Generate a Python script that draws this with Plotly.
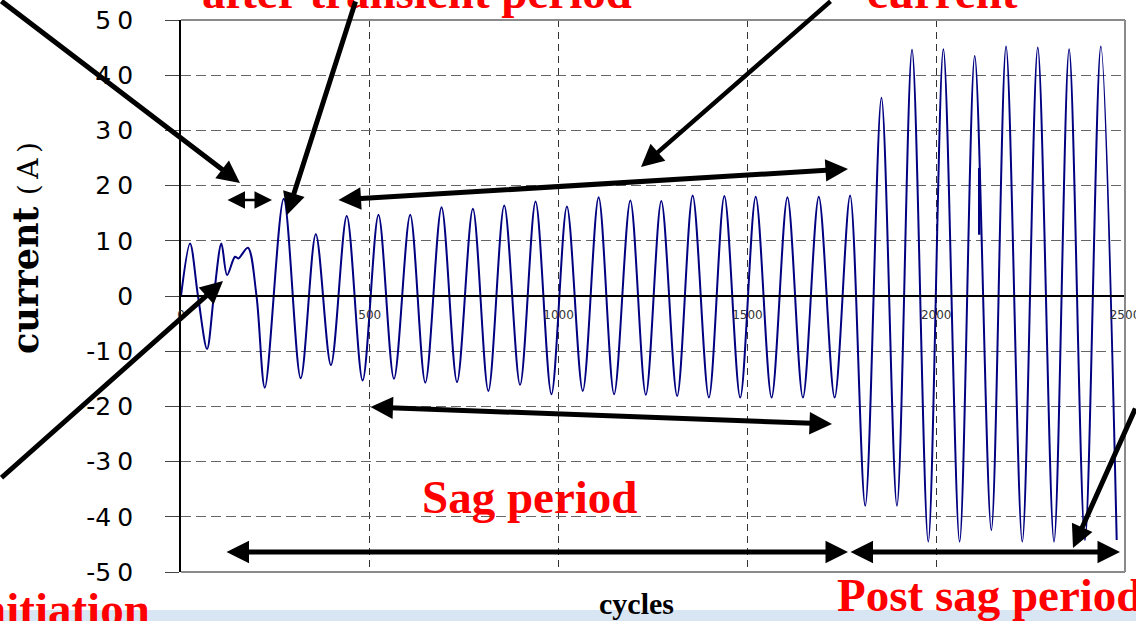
"""Line current through a voltage sag: waveform with the annotated periods."""
import plotly.graph_objects as go

# sample positions (cycles axis) and current (A), read at the extrema of the trace
cycles = [0, 24, 45, 69, 87, 107, 122, 143, 152, 177,
          200, 222, 272, 317, 357, 397, 439, 481, 523, 564,
          607, 647, 690, 731, 773, 814, 856, 898, 939, 981,
          1022, 1064, 1106, 1147, 1190, 1231, 1272, 1314, 1355, 1398,
          1439, 1481, 1522, 1564, 1606, 1647, 1689, 1731, 1772, 1812,
          1855, 1896, 1936, 1979, 2019, 2062, 2102, 2146, 2185, 2228,
          2269, 2312, 2352, 2394, 2436, 2478]
current = [0, 9.5, 0, -9.6, 0, 9.5, 3.8, 7.1, 6.8, 8.75,
           0, -16.6, 17.6, -14.9, 11.2, -12.5, 14.5, -15.3, 14.7, -15.0,
           14.7, -15.7, 16.1, -15.6, 15.8, -17.2, 16.4, -16.1, 17.1, -17.8,
           16.2, -17.2, 17.9, -17.8, 17.3, -17.9, 17.2, -18.1, 18.2, -18.4,
           18.1, -18.4, 18.0, -18.4, 17.9, -18.4, 18.0, -18.4, 18.2, -38.0,
           35.9, -38.0, 44.6, -44.5, 44.7, -44.5, 43.5, -42.4, 45.2, -44.5,
           45.0, -44.5, 44.7, -44.2, 45.2, -44.2]

# short spike in the post-sag record
glitch_cycles = [2114, 2114]
glitch_current = [23.2, 11.1]

x_ticks = [0, 500, 1000, 1500, 2000, 2500]
y_ticks = [50, 40, 30, 20, 10, 0, -10, -20, -30, -40, -50]
y_tick_text = ["5\u20050", "4\u20050", "3\u20050", "2\u20050", "1\u20050", "0",
               "-1\u20050", "-2\u20050", "-3\u20050", "-4\u20050", "-5\u20050"]

W, H = 1136, 621
L, R, T, B = 181, 11, 20, 49
PW, PH = W - L - R, H - T - B


def paper(px, py):
    return (px - L) / PW, (H - B - py) / PH


RED = "#ff0000"
SERIF = "Liberation Serif"

fig = go.Figure()
fig.add_trace(go.Scatter(
    x=cycles, y=current, mode="lines",
    line=dict(color="#000080", width=2, shape="spline", smoothing=0.9),
    hoverinfo="skip", showlegend=False,
))
fig.add_trace(go.Scatter(
    x=glitch_cycles, y=glitch_current, mode="lines",
    line=dict(color="#000080", width=2.5),
    hoverinfo="skip", showlegend=False,
))

annotations = []

# captions (px centre/edge, px middle, text, anchor, colour, size)
captions = [
    (417, -8, "after transient period", "center", RED, 47),
    (942, -8, "current", "center", RED, 47),
    (529, 497, "Sag period", "center", RED, 47),
    (835, 595, "Post sag period", "left", RED, 47),
    (152, 609, "initiation", "right", RED, 47),
    (636, 603, "cycles", "center", "#000000", 30),
]
for cx, cy, text, anchor, color, size in captions:
    x, y = paper(cx, cy)
    annotations.append(dict(
        x=x, y=y, xref="paper", yref="paper", text=f"<b>{text}</b>",
        showarrow=False, xanchor=anchor, yanchor="middle",
        font=dict(family=SERIF, size=size, color=color),
    ))

# y-axis title
x, y = paper(26, 248)
annotations.append(dict(
    x=x, y=y, xref="paper", yref="paper", textangle=-90, showarrow=False,
    text="<b>current</b> <span style='font-size:28px'>(\u2009A\u2009)</span>",
    xanchor="center", yanchor="middle",
    font=dict(family="DejaVu Serif", size=35, color="#000000"),
))

# arrows: tip px, tail px, width, head size, two-headed
arrows = [
    ((240, 183), (-30, -27), 5, 0.9, False),
    ((226, 200), (272, 200), 2.5, 1.4, True),
    ((287, 215), (356, -20), 5, 0.9, False),
    ((337, 200), (848, 169), 5, 0.9, True),
    ((641, 167), (832, -20), 4.5, 1.0, False),
    ((223, 281), (-20, 479), 5, 0.9, False),
    ((369, 407), (832, 424), 5, 0.9, True),
    ((225, 552), (848, 552), 5, 0.9, True),
    ((849, 552), (1120, 552), 5, 0.9, True),
    ((1073, 548), (1150, 407), 5, 0.9, False),
]
for (tx, ty), (sx, sy), width, size, both in arrows:
    if both:
        x, y = paper(sx, sy)
        ax, ay = tx - sx, ty - sy
    else:
        x, y = paper(tx, ty)
        ax, ay = sx - tx, sy - ty
    annotations.append(dict(
        x=x, y=y, xref="paper", yref="paper", ax=ax, ay=ay,
        axref="pixel", ayref="pixel", text="", showarrow=True,
        arrowhead=2, arrowsize=size, arrowwidth=width, arrowcolor="#000000",
        startarrowhead=2, startarrowsize=size,
        arrowside="end+start" if both else "end", standoff=0, startstandoff=0,
    ))

frame = dict(color="#8a8a8a", width=2)
shapes = [
    # slide background strip at the bottom
    dict(type="rect", xref="paper", yref="paper",
         x0=paper(0, 0)[0], x1=paper(W, 0)[0],
         y0=paper(0, 610)[1], y1=paper(0, H + 2)[1],
         fillcolor="#d8e5f3", line=dict(width=0), layer="below"),
    # plot frame: top, right, bottom
    dict(type="line", xref="paper", yref="paper", x0=0, x1=1, y0=1, y1=1, line=frame),
    dict(type="line", xref="paper", yref="paper", x0=1, x1=1, y0=0, y1=1, line=frame),
    dict(type="line", xref="paper", yref="paper", x0=0, x1=1, y0=0, y1=0, line=frame),
]

fig.update_layout(
    width=W, height=H,
    margin=dict(l=L, r=R, t=T, b=B, autoexpand=False),
    paper_bgcolor="white", plot_bgcolor="white",
    annotations=annotations, shapes=shapes,
    xaxis=dict(
        range=[0, 2500], tickvals=x_ticks, showgrid=True,
        gridcolor="#333333", griddash="7px,5px", gridwidth=1,
        anchor="free", position=0.5, showline=True, linecolor="#000000",
        linewidth=1.5, ticks="", zeroline=False, automargin=False,
        tickfont=dict(family="DejaVu Sans", size=12, color="#333333"),
        ticklabelstandoff=8, ticklabeloverflow="allow",
    ),
    yaxis=dict(
        range=[-50, 50], tickvals=y_ticks, ticktext=y_tick_text,
        showgrid=True, gridcolor="#666666", griddash="10px,5px", gridwidth=1,
        showline=True, linecolor="#000000", linewidth=1.5, zeroline=False,
        ticks="outside", ticklen=14, tickcolor="#444444", automargin=False,
        tickfont=dict(family="DejaVu Sans", size=25, color="#000000"),
        ticklabelstandoff=27,
    ),
)

# the page body has a default 8px margin; drop it so the figure sits at 0,0
fig.write_html(
    "out.html",
    config={"displayModeBar": False},
    post_script="document.body.style.margin = '0';",
)
